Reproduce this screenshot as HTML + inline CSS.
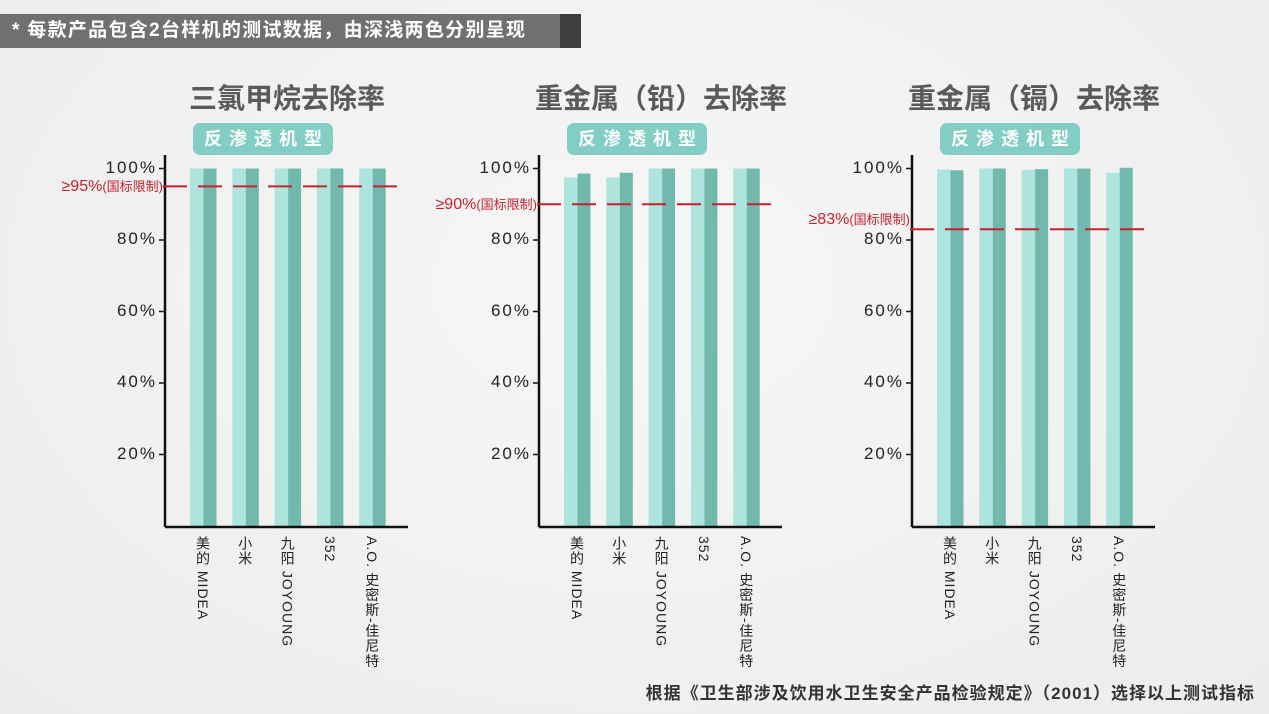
<!DOCTYPE html>
<html><head><meta charset="utf-8"><style>
body{margin:0;width:1269px;height:714px;overflow:hidden;background:radial-gradient(ellipse at 50% 40%,#f7f7f7,#ececec);font-family:"Liberation Sans","Noto Sans CJK SC",sans-serif;position:relative}
.hdr{position:absolute;left:0;top:14px;width:560px;height:34px;background:#707070;color:#fff;font-weight:bold;font-size:19px;line-height:34px;padding-left:12px;box-sizing:border-box;letter-spacing:1.3px;white-space:nowrap}
.hdr2{position:absolute;left:560px;top:14px;width:21px;height:34px;background:#3e3e3e}
.ttl{position:absolute;width:320px;text-align:center;font-weight:bold;font-size:28px;color:#5a5a5a;top:77px}
.pill{position:absolute;width:140px;height:32px;top:123px;background:#82cdc4;border-radius:7px;color:#fff;font-weight:bold;font-size:18px;line-height:32px;text-align:center;letter-spacing:7px;text-indent:7px}
.yl{position:absolute;font-size:17px;color:#222;text-align:right;width:62px;letter-spacing:2px}
.lim{position:absolute;color:#c8202c;font-size:16px;text-align:right;width:150px;white-space:nowrap}
.lim small{font-size:13px}
.xl{position:absolute;writing-mode:vertical-rl;font-size:14px;color:#222;top:536px;letter-spacing:1px;line-height:16px}
.foot{position:absolute;right:14px;top:679px;font-size:17px;font-weight:bold;color:#333;letter-spacing:1px;white-space:nowrap}
</style></head><body>
<div class="hdr">* 每款产品包含2台样机的测试数据，由深浅两色分别呈现</div><div class="hdr2"></div>
<div id="c"></div>
<svg id="s" width="1269" height="714" style="position:absolute;left:0;top:0"></svg>
<div class="foot">根据《卫生部涉及饮用水卫生安全产品检验规定》（2001）选择以上测试指标</div>
<script>
var charts=[
{ax:165,t:"三氯甲烷去除率",lim:95,lt:"≥95%",v:[[100,100],[100,100],[100,100],[100,100],[100,100]]},
{ax:539,t:"重金属（铅）去除率",lim:90,lt:"≥90%",v:[[97.5,98.6],[97.5,98.8],[100,100],[100,100],[100,100]]},
{ax:912,t:"重金属（镉）去除率",lim:83,lt:"≥83%",v:[[99.7,99.5],[100,100],[99.6,99.8],[100,100],[98.8,100.2]]}];
var names=["美的 MIDEA","小米","九阳 JOYOUNG","352","A.O. 史密斯-佳尼特"];
var svg="",html="";
function Y(p){return 526-p*3.575;}
charts.forEach(function(c){
 var a=c.ax;
 html+='<div class="ttl" style="left:'+(a-38)+'px">'+c.t+'</div>';
 html+='<div class="pill" style="left:'+(a+28)+'px">反渗透机型</div>';
 [100,80,60,40,20].forEach(function(p){html+='<div class="yl" style="left:'+(a-70)+'px;top:'+(Y(p)-11)+'px">'+p+'%</div>';svg+='<line x1="'+(a-6)+'" x2="'+a+'" y1="'+Y(p)+'" y2="'+Y(p)+'" stroke="#111" stroke-width="1.5"/>';});
 c.v.forEach(function(v,i){var x=a+25+i*42.3;
  svg+='<rect x="'+x+'" y="'+Y(v[0])+'" width="13.5" height="'+(526-Y(v[0]))+'" fill="#ade4dd"/>';
  svg+='<rect x="'+(x+13.5)+'" y="'+Y(v[1])+'" width="13" height="'+(526-Y(v[1]))+'" fill="#71b8ae"/>';
  html+='<div class="xl" style="left:'+(x+5)+'px">'+names[i]+'</div>';});
 svg+='<line x1="'+a+'" x2="'+a+'" y1="155" y2="527" stroke="#111" stroke-width="2.5"/>';
 svg+='<line x1="'+a+'" x2="'+(a+243)+'" y1="527" y2="527" stroke="#111" stroke-width="2.5"/>';
 var ly=Y(c.lim);
 svg+='<line x1="'+(a-2)+'" x2="'+(a+236)+'" y1="'+ly+'" y2="'+ly+'" stroke="#c8202c" stroke-width="2" stroke-dasharray="24,11"/>';
 var lt=c.lim==83?ly-20:ly-10;
 html+='<div class="lim" style="left:'+(a-152)+'px;top:'+lt+'px">'+c.lt+'<small>(国标限制)</small></div>';
});
document.getElementById("s").innerHTML=svg;document.getElementById("c").innerHTML=html;
</script>
</body></html>
